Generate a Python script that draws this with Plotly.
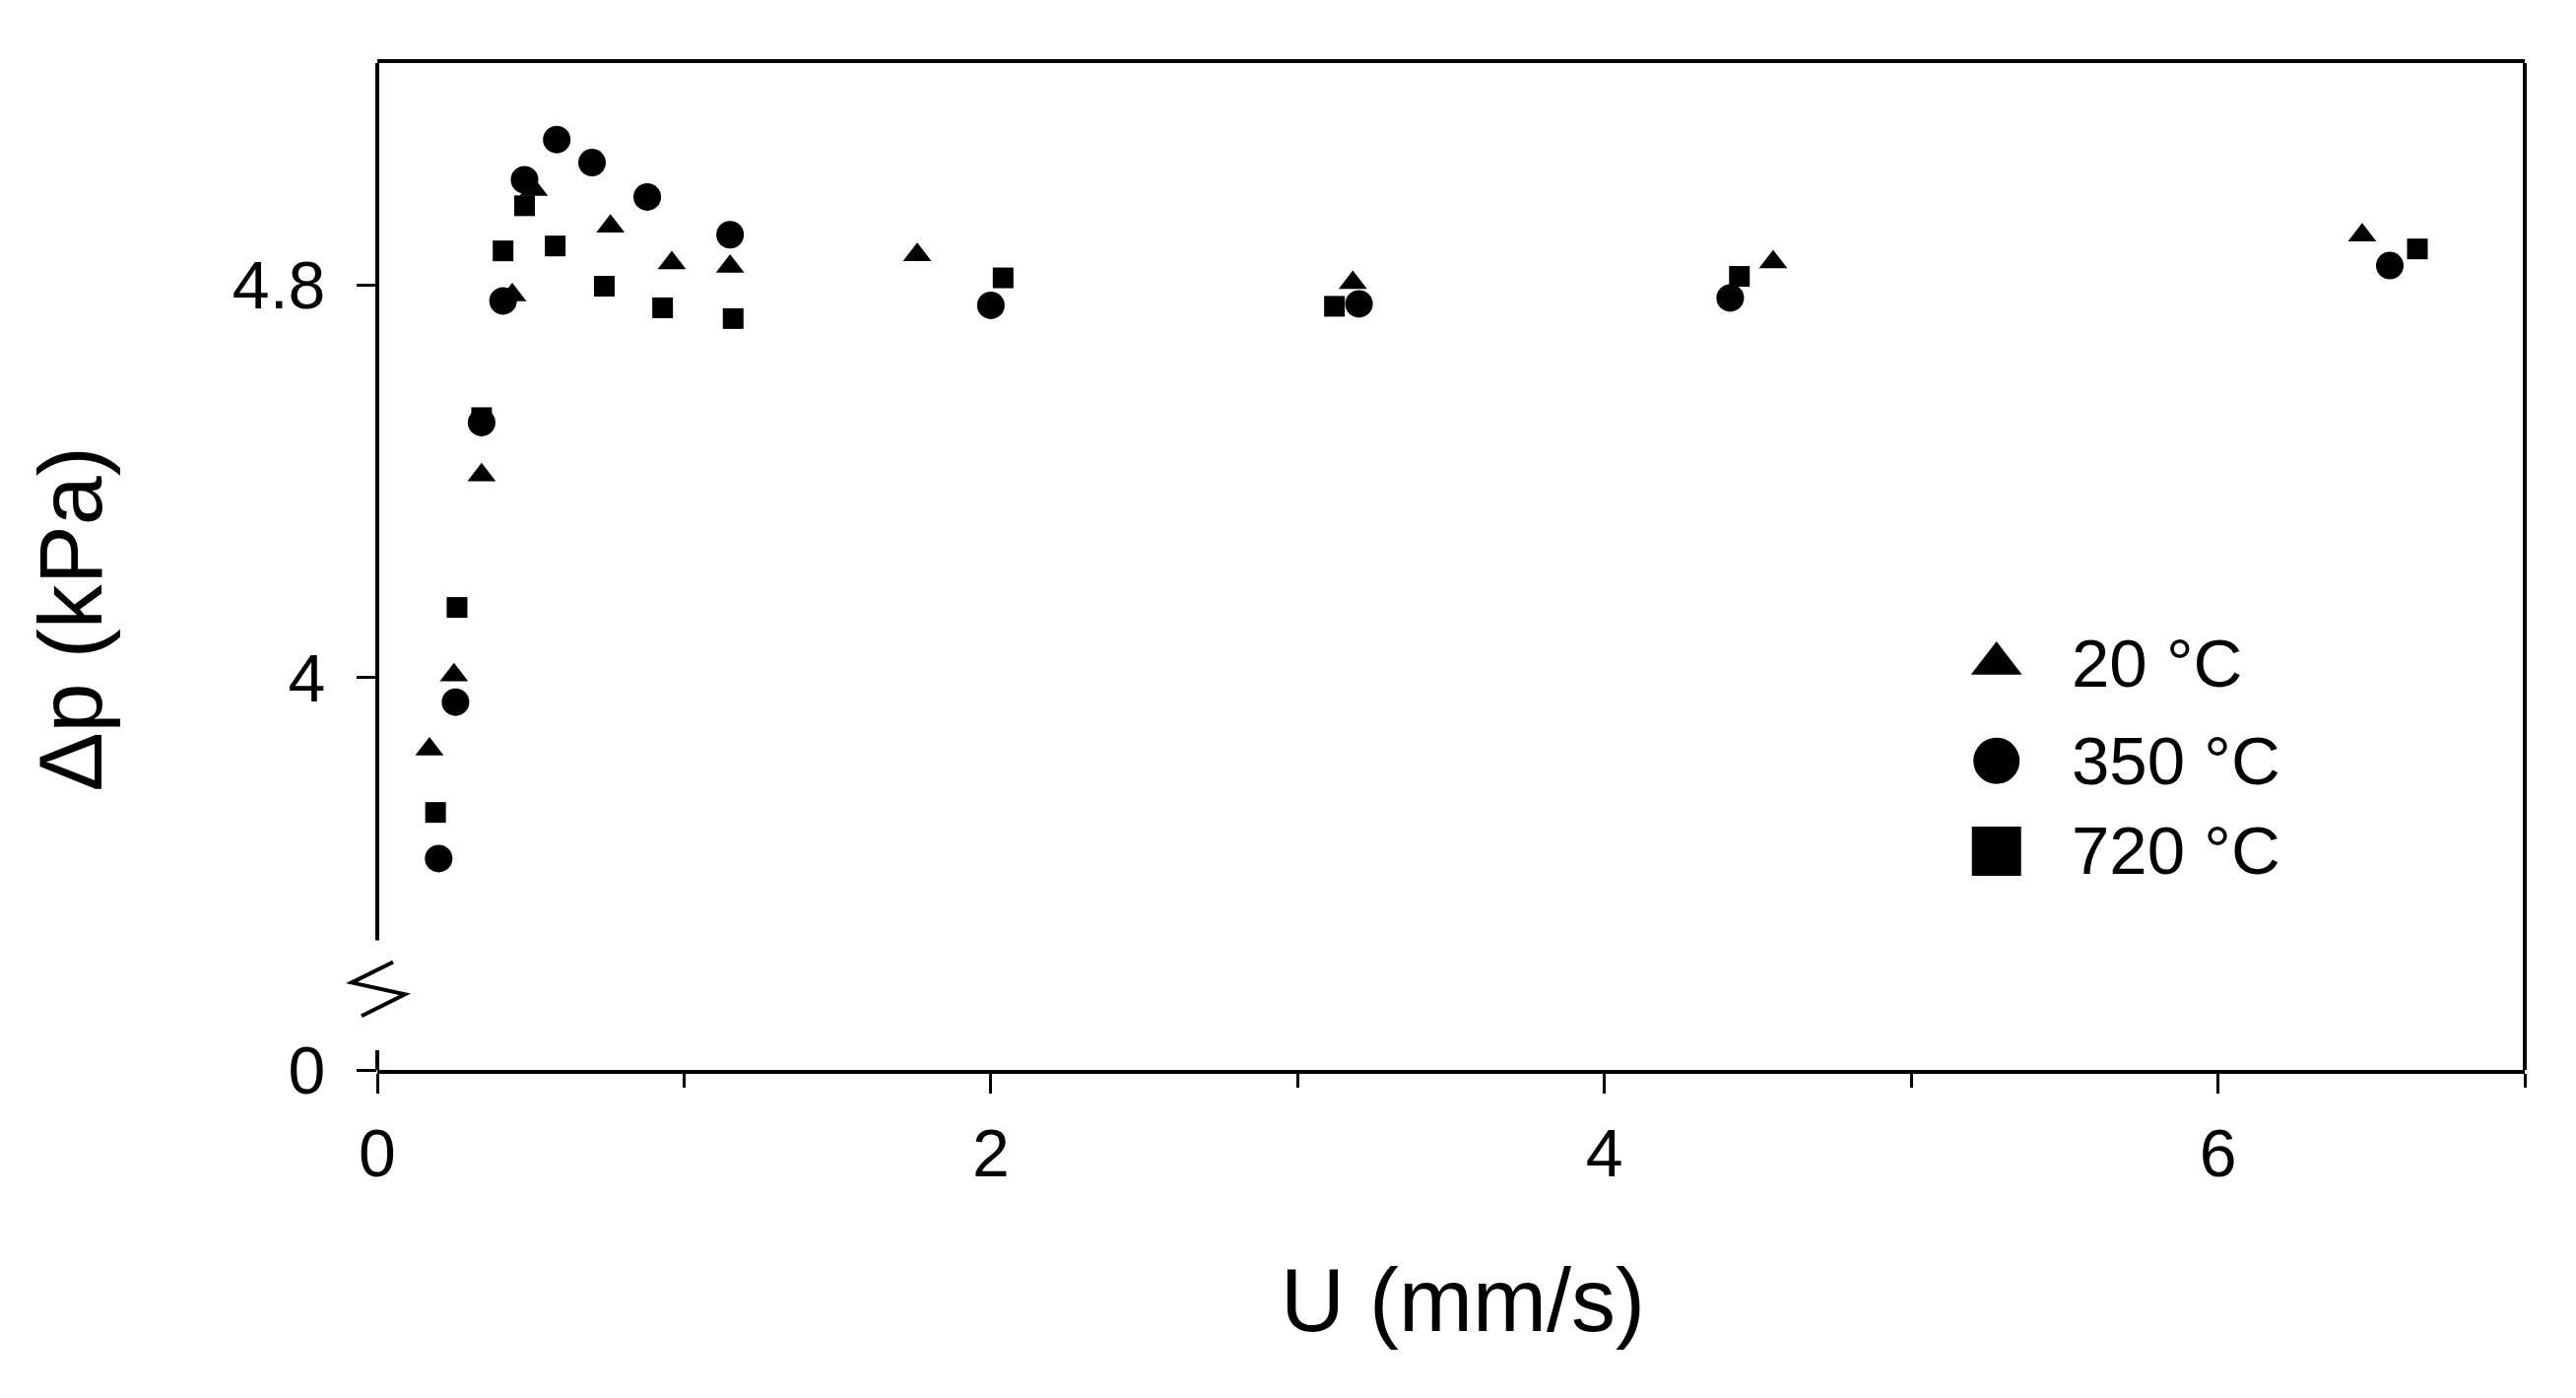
import plotly.graph_objects as go

# U (mm/s) and delta-p (kPa); the y axis is broken,
# values below 4 sit on a stretched scale where 3.2 stands for 0
u_20 = [0.17, 0.25, 0.34, 0.44, 0.51, 0.76, 0.96, 1.15, 1.76, 3.18, 4.55, 6.47]
dp_20 = [3.854, 4.005, 4.413, 4.78, 4.995, 4.92, 4.845, 4.838, 4.862, 4.805, 4.847, 4.902]

u_350 = [0.2, 0.255, 0.34, 0.41, 0.48, 0.585, 0.70, 0.88, 1.15, 2.0, 3.2, 4.41, 6.56]
dp_350 = [3.631, 3.95, 4.52, 4.768, 5.015, 5.097, 5.05, 4.98, 4.903, 4.759, 4.762, 4.774, 4.84]

u_720 = [0.19, 0.26, 0.34, 0.41, 0.48, 0.58, 0.74, 0.93, 1.16, 2.04, 3.12, 4.44, 6.65]
dp_720 = [3.725, 4.143, 4.53, 4.87, 4.962, 4.88, 4.798, 4.754, 4.732, 4.815, 4.757, 4.818, 4.874]

series_names = ["20 \u00b0C", "350 \u00b0C", "720 \u00b0C"]
y_tickvals = [3.2, 4.0, 4.8]
y_ticktext = ["0", "4", "4.8"]
x_tickvals = [0, 2, 4, 6]
x_minor = [1, 3, 5, 7]

FONT = "Arial, Liberation Sans, sans-serif"
BLACK = "black"

fig = go.Figure()

fig.add_trace(go.Scatter(x=u_20, y=dp_20, mode="markers", name=series_names[0],
                         marker=dict(symbol="triangle-up", size=25, color=BLACK)))
fig.add_trace(go.Scatter(x=u_720, y=dp_720, mode="markers", name=series_names[2],
                         marker=dict(symbol="square", size=21, color=BLACK)))
fig.add_trace(go.Scatter(x=u_350, y=dp_350, mode="markers", name=series_names[1],
                         marker=dict(symbol="circle", size=28, color=BLACK)))

# hand-drawn legend with large glyphs (on an overlay axis spanning the plot area)
leg_x = [0.754, 0.754, 0.754]
leg_y = [0.4035, 0.307, 0.2173]
leg_symbols = ["triangle-up", "circle", "square"]
leg_sizes = [45, 47, 50]
for i in range(3):
    fig.add_trace(go.Scatter(x=[leg_x[i]], y=[leg_y[i]], xaxis="x2", yaxis="y2",
                             mode="markers", showlegend=False, hoverinfo="skip",
                             marker=dict(symbol=leg_symbols[i], size=leg_sizes[i], color=BLACK)))
    fig.add_annotation(x=0.788, y=leg_y[i], xref="paper", yref="paper",
                       text=series_names[i], showarrow=False, xanchor="left", yanchor="middle",
                       font=dict(family=FONT, size=69, color=BLACK))

fig.add_annotation(x=0.5055, y=-0.229, xref="paper", yref="paper", text="U (mm/s)",
                   showarrow=False, xanchor="center", yanchor="middle",
                   font=dict(family=FONT, size=90, color=BLACK))
fig.add_annotation(x=-0.1425, y=0.448, xref="paper", yref="paper", text="\u0394p (kPa)",
                   showarrow=False, textangle=-90, xanchor="center", yanchor="middle",
                   font=dict(family=FONT, size=90, color=BLACK))

# frame: right side, and the left side broken near the bottom
line = dict(color=BLACK, width=4)
fig.add_shape(type="line", xref="paper", yref="paper", x0=1, x1=1, y0=0, y1=1, line=line)
fig.add_shape(type="line", xref="paper", yref="paper", x0=0, x1=0, y0=0, y1=0.0195, line=line)
fig.add_shape(type="line", xref="paper", yref="paper", x0=0, x1=0, y0=0.1287, y1=1, line=line)
fig.add_shape(type="path", xref="paper", yref="paper",
              path="M 0.00735 0.1072 L -0.01194 0.0867 L 0.01286 0.0750 L -0.00735 0.0536",
              line=dict(color=BLACK, width=4))

fig.update_layout(
    width=2615,
    height=1419,
    margin=dict(l=375, r=60, t=56, b=341),
    paper_bgcolor="white",
    plot_bgcolor="white",
    showlegend=False,
    font=dict(family=FONT, size=68, color=BLACK),
    xaxis=dict(
        range=[0, 7],
        tickvals=x_tickvals,
        ticks="outside", ticklen=20, tickwidth=3, tickcolor=BLACK,
        ticklabelstandoff=2,
        minor=dict(tickvals=x_minor, ticks="outside", ticklen=14, tickwidth=3, tickcolor=BLACK),
        showline=True, linewidth=4, linecolor=BLACK, mirror=True,
        showgrid=False, zeroline=False,
        tickfont=dict(family=FONT, size=68, color=BLACK),
    ),
    yaxis=dict(
        range=[3.2, 5.253],
        tickvals=y_tickvals, ticktext=y_ticktext,
        ticks="outside", ticklen=20, tickwidth=3, tickcolor=BLACK,
        ticklabelstandoff=18,
        showline=False, showgrid=False, zeroline=False,
        tickfont=dict(family=FONT, size=68, color=BLACK),
    ),
    xaxis2=dict(overlaying="x", range=[0, 1], visible=False),
    yaxis2=dict(overlaying="y", range=[0, 1], visible=False),
)

fig.write_html("out.html")
